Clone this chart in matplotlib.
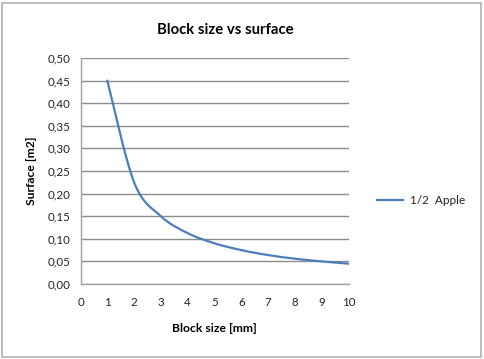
import matplotlib
matplotlib.use("Agg")
import matplotlib.pyplot as plt
from matplotlib.path import Path
from matplotlib.patches import PathPatch, Rectangle
from matplotlib.lines import Line2D
from matplotlib.ticker import FuncFormatter

# --- data ---
block_size = [1, 2, 3, 4, 5, 6, 7, 8, 9, 10]
surface = [0.45, 0.225, 0.15, 0.1125, 0.09, 0.075, 0.064, 0.056, 0.05, 0.045]
series_name = "1/2  Apple"
x_ticks = list(range(0, 11))
y_ticks = [i * 0.05 for i in range(11)]

LINE_COLOR = "#4A7EBB"
GRID_COLOR = "#8C8C8C"
plt.rcParams['font.family'] = ['Lato', 'DejaVu Sans']


def smooth_path(xs, ys):
    # Excel-like smoothed line: cubic bezier segments through every point
    verts = [(xs[0], ys[0])]
    codes = [Path.MOVETO]
    n = len(xs)
    for i in range(n - 1):
        x0, y0 = (xs[i - 1], ys[i - 1]) if i > 0 else (xs[i], ys[i])
        x3, y3 = (xs[i + 2], ys[i + 2]) if i + 2 < n else (xs[i + 1], ys[i + 1])
        c1 = (xs[i] + (xs[i + 1] - x0) / 6, ys[i] + (ys[i + 1] - y0) / 6)
        c2 = (xs[i + 1] - (x3 - xs[i]) / 6, ys[i + 1] - (y3 - ys[i]) / 6)
        verts += [c1, c2, (xs[i + 1], ys[i + 1])]
        codes += [Path.CURVE4] * 3
    return Path(verts, codes)


fig = plt.figure(figsize=(4.84, 3.59), dpi=100)
ax = fig.add_axes([80.5 / 484, 1 - 284 / 359, 268 / 484, 226 / 359])

ax.add_patch(PathPatch(smooth_path(block_size, surface), facecolor="none",
                       edgecolor=LINE_COLOR, linewidth=1.6, capstyle="round"))

ax.set_xlim(0, 10)
ax.set_ylim(0, 0.5)
ax.set_xticks(x_ticks)
ax.set_yticks(y_ticks)
ax.yaxis.set_major_formatter(FuncFormatter(lambda v, p: f"{v:.2f}".replace(".", ",")))
ax.tick_params(length=0, labelsize=8.3, colors="#222222", pad=7)
ax.tick_params(axis="x", pad=9)
ax.grid(axis="y", color=GRID_COLOR, linewidth=1.0)
ax.set_axisbelow(True)
for side in ["top", "right"]:
    ax.spines[side].set_visible(False)
for side in ["left", "bottom"]:
    ax.spines[side].set_color("#A0A0A0")
    ax.spines[side].set_linewidth(1.0)

ax.set_xlabel("Block size [mm]", fontsize=8.7, fontweight="bold", labelpad=11)
ax.set_ylabel("Surface [m2]", fontsize=8.7, fontweight="bold", labelpad=8)
fig.text(225 / 484, 1 - 30 / 359, "Block size vs surface", fontsize=10.7,
         fontweight="bold", ha="center", va="center")

# legend drawn by hand at the right side
fig.add_artist(Line2D([377 / 484, 403 / 484], [1 - 200 / 359, 1 - 200 / 359],
                      color=LINE_COLOR, linewidth=1.6, transform=fig.transFigure))
fig.text(410 / 484, 1 - 200 / 359, series_name, fontsize=8.5, va="center", color="#222222")

# chart border
fig.add_artist(Rectangle((2 / 484, 2 / 359), 479 / 484, 354 / 359, transform=fig.transFigure,
                         fill=False, edgecolor="#B0B0B0", linewidth=1.2))

fig.savefig("out.png", dpi=100)
